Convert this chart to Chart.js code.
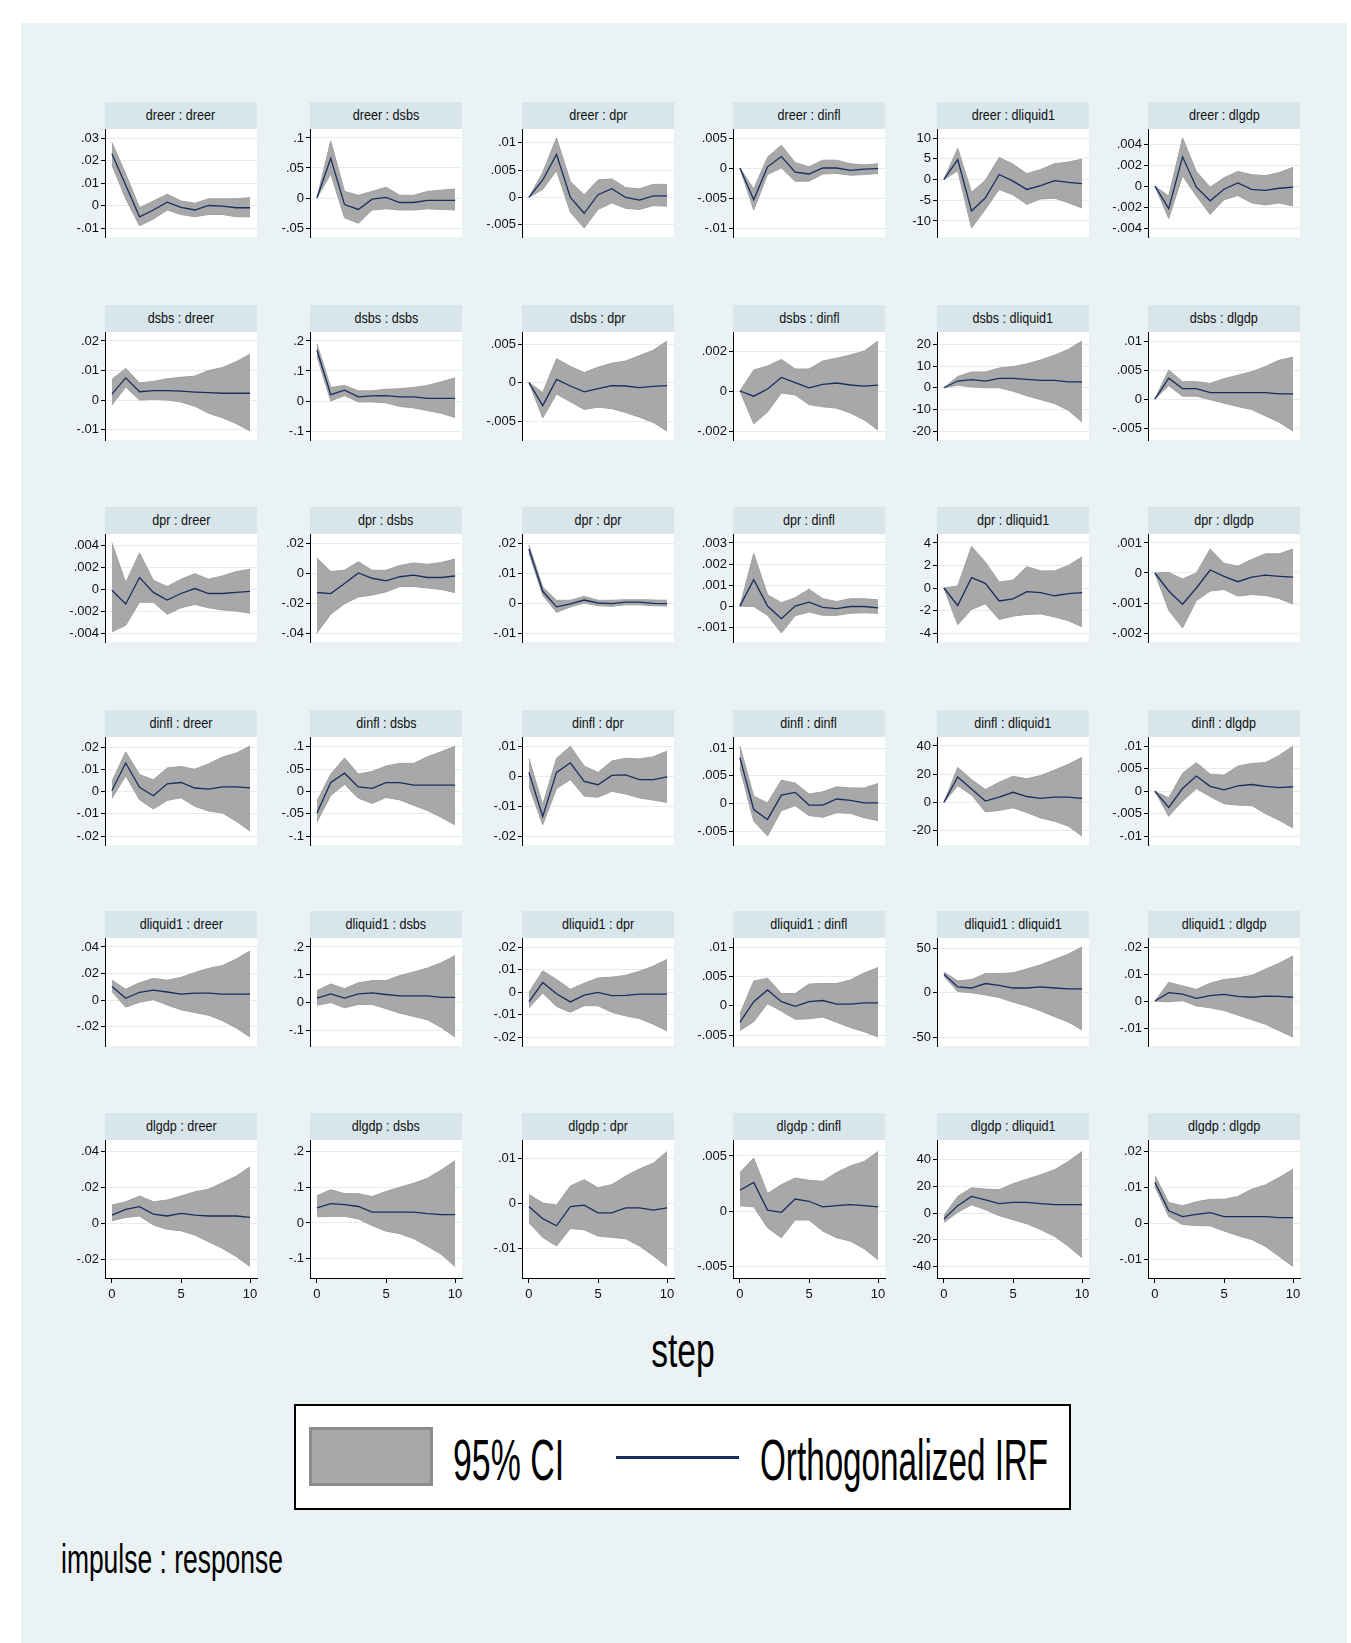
<!DOCTYPE html>
<html><head><meta charset="utf-8">
<script src="https://cdn.jsdelivr.net/npm/chart.js@4.4.1/dist/chart.umd.min.js"></script>
<style>
html,body{margin:0;padding:0;background:#fff;}
#page{position:relative;width:1351px;height:1643px;overflow:hidden;background:#fff;}
#bg{position:absolute;left:21px;top:23px;width:1326px;height:1620px;background:#EAF2F3;}
.strip{position:absolute;height:27px;background:#D8E5EA;text-align:center;font-family:'Liberation Sans',Arial,sans-serif;font-size:14px;line-height:27px;color:#111;white-space:nowrap;overflow:hidden;}
.strip span{display:inline-block;transform:scaleX(0.9);}
canvas{position:absolute;}
.txt{position:absolute;font-family:'Liberation Sans',Arial,sans-serif;color:#000;white-space:nowrap;}
</style>
</head><body>
<div id="page"><div id="bg"></div></div>
<script>
// ---------------- data ----------------
var steps = [0,1,2,3,4,5,6,7,8,9,10];
var stepTicks = [0,5,10];
var impulses = ['dreer','dsbs','dpr','dinfl','dliquid1','dlgdp'];
var responses = ['dreer','dsbs','dpr','dinfl','dliquid1','dlgdp'];

var irf_dreer_dreer = [0.023,0.009,-0.005,-0.002,0.0015,-0.0008,-0.002,0,-0.0003,-0.001,-0.001];
var lo_dreer_dreer  = [0.018,0.003,-0.009,-0.006,-0.002,-0.004,-0.005,-0.004,-0.004,-0.005,-0.005];
var hi_dreer_dreer  = [0.028,0.014,-0.001,0.002,0.005,0.002,0.001,0.003,0.003,0.003,0.0035];
var yt_dreer_dreer  = [-0.01,0,0.01,0.02,0.03];

var irf_dreer_dsbs = [0,0.066,-0.011,-0.019,-0.002,0.001,-0.0075,-0.0075,-0.004,-0.004,-0.004];
var lo_dreer_dsbs  = [0,0.04,-0.033,-0.042,-0.02,-0.018,-0.02,-0.02,-0.018,-0.019,-0.02];
var hi_dreer_dsbs  = [0,0.095,0.011,0.0045,0.011,0.018,0.0045,0.0045,0.011,0.013,0.015];
var yt_dreer_dsbs  = [-0.05,0,0.05,0.1];

var irf_dreer_dpr = [0,0.0032,0.0079,0,-0.0029,0.0005,0.0016,0,-0.0005,0.0003,0.0003];
var lo_dreer_dpr  = [0,0.0015,0.0049,-0.0027,-0.0056,-0.0022,-0.001,-0.002,-0.0022,-0.0015,-0.0016];
var hi_dreer_dpr  = [0,0.0046,0.0109,0.0029,0.0005,0.0032,0.0034,0.0018,0.0016,0.0024,0.0024];
var yt_dreer_dpr  = [-0.005,0,0.005,0.01];

var irf_dreer_dinfl = [0,-0.0053,0.0002,0.0019,-0.0007,-0.001,0,0,-0.0004,-0.0002,-0.0001];
var lo_dreer_dinfl  = [0,-0.007,-0.0011,0,-0.0022,-0.0022,-0.001,-0.0009,-0.0012,-0.0011,-0.0009];
var hi_dreer_dinfl  = [0,-0.0035,0.0018,0.0038,0.0009,0.0002,0.0013,0.0013,0.0007,0.0005,0.0007];
var yt_dreer_dinfl  = [-0.01,-0.005,0,0.005];

var irf_dreer_dliquid1 = [0,4.8,-7.6,-4.4,1.2,-0.4,-2.4,-1.5,-0.3,-0.7,-1.0];
var lo_dreer_dliquid1  = [0,2.1,-11.7,-7.2,-2.4,-3.7,-6.0,-4.7,-4.5,-5.6,-6.9];
var hi_dreer_dliquid1  = [0,7.5,-3.1,-0.2,5.3,3.7,1.4,2.4,3.8,4.2,4.9];
var yt_dreer_dliquid1  = [-10,-5,0,5,10];

var irf_dreer_dlgdp = [0,-0.00215,0.0028,-0.0001,-0.0014,-0.0003,0.0003,-0.0003,-0.0004,-0.0002,-0.0001];
var lo_dreer_dlgdp  = [0,-0.0031,0.001,-0.00095,-0.0027,-0.0013,-0.0009,-0.0016,-0.0018,-0.0016,-0.0019];
var hi_dreer_dlgdp  = [0,-0.00095,0.0046,0.0014,-0.0001,0.0008,0.0014,0.0011,0.001,0.0013,0.0018];
var yt_dreer_dlgdp  = [-0.004,-0.002,0,0.002,0.004];

var irf_dsbs_dreer = [0.002,0.0075,0.0028,0.0032,0.0032,0.003,0.0027,0.0025,0.0023,0.0023,0.0023];
var lo_dsbs_dreer  = [-0.0017,0.0044,0,0.0002,0,-0.0007,-0.0021,-0.0045,-0.006,-0.008,-0.0105];
var hi_dsbs_dreer  = [0.007,0.0107,0.0058,0.0063,0.0072,0.0077,0.0081,0.010,0.011,0.013,0.0155];
var yt_dsbs_dreer  = [-0.01,0,0.01,0.02];

var irf_dsbs_dsbs = [0.17,0.021,0.036,0.014,0.017,0.018,0.014,0.014,0.009,0.009,0.009];
var lo_dsbs_dsbs  = [0.15,0,0.018,-0.003,-0.003,-0.006,-0.018,-0.023,-0.032,-0.041,-0.055];
var hi_dsbs_dsbs  = [0.19,0.045,0.052,0.034,0.034,0.039,0.041,0.045,0.052,0.064,0.077];
var yt_dsbs_dsbs  = [-0.1,0,0.1,0.2];

var irf_dsbs_dpr = [0,-0.003,0.0004,-0.00045,-0.0012,-0.0008,-0.0004,-0.00045,-0.00065,-0.0005,-0.0004];
var lo_dsbs_dpr  = [0,-0.0046,-0.0015,-0.0025,-0.0035,-0.0032,-0.0034,-0.0039,-0.0045,-0.0052,-0.0063];
var hi_dsbs_dpr  = [0,-0.0013,0.0031,0.0021,0.0013,0.002,0.0025,0.0028,0.0035,0.0042,0.0054];
var yt_dsbs_dpr  = [-0.005,0,0.005];

var irf_dsbs_dinfl = [0,-0.00026,0.0001,0.00068,0.00042,0.00016,0.00033,0.0004,0.0003,0.00024,0.00029];
var lo_dsbs_dinfl  = [0,-0.00164,-0.00105,-0.0001,-0.0002,-0.00068,-0.00079,-0.00086,-0.0011,-0.00145,-0.00195];
var hi_dsbs_dinfl  = [0,0.00105,0.00125,0.00158,0.0011,0.0011,0.0015,0.00164,0.0018,0.002,0.0025];
var yt_dsbs_dinfl  = [-0.002,0,0.002];

var irf_dsbs_dliquid1 = [0,3.1,3.7,3.1,4.3,4.3,3.9,3.4,3.4,2.7,2.7];
var lo_dsbs_dliquid1  = [0,1.2,0.4,0,0,-1.6,-3.7,-5.5,-7.3,-10.4,-15.9];
var hi_dsbs_dliquid1  = [0,5.2,7.3,7.3,9.1,9.8,11,12.8,15,17.7,21.6];
var yt_dsbs_dliquid1  = [-20,-10,0,10,20];

var irf_dsbs_dlgdp = [0,0.0036,0.0018,0.0018,0.0011,0.0011,0.0011,0.0011,0.0011,0.0009,0.0009];
var lo_dsbs_dlgdp  = [0,0.0023,0.0005,0.0005,-0.0001,-0.0007,-0.0013,-0.0018,-0.0029,-0.004,-0.0055];
var hi_dsbs_dlgdp  = [0,0.005,0.003,0.003,0.0027,0.0035,0.0041,0.0047,0.0056,0.0067,0.0072];
var yt_dsbs_dlgdp  = [-0.005,0,0.005,0.01];

var irf_dpr_dreer = [-0.0001,-0.00136,0.00105,-0.0003,-0.001,-0.0004,0.00005,-0.0004,-0.0004,-0.0003,-0.0002];
var lo_dpr_dreer  = [-0.0039,-0.0033,-0.0012,-0.0012,-0.0023,-0.0017,-0.0014,-0.0017,-0.0019,-0.002,-0.0022];
var hi_dpr_dreer  = [0.0042,0.0006,0.0033,0.0008,0.00023,0.0009,0.0014,0.0009,0.0012,0.0016,0.0018];
var yt_dpr_dreer  = [-0.004,-0.002,0,0.002,0.004];

var irf_dpr_dsbs = [-0.013,-0.0137,-0.007,0,-0.0035,-0.0053,-0.0025,-0.0014,-0.003,-0.003,-0.002];
var lo_dpr_dsbs  = [-0.04,-0.0275,-0.0205,-0.016,-0.0147,-0.0126,-0.009,-0.009,-0.01,-0.011,-0.013];
var hi_dpr_dsbs  = [0.01,0.001,0.0018,0.0075,0.0018,0.0018,0.005,0.0067,0.0058,0.007,0.0093];
var yt_dpr_dsbs  = [-0.04,-0.02,0,0.02];

var irf_dpr_dpr = [0.018,0.0039,-0.0013,-0.0003,0.001,0,-0.0002,0.0003,0.0003,-0.0001,-0.0002];
var lo_dpr_dpr  = [0.0167,0.0026,-0.0031,-0.0013,0,-0.0009,-0.0011,-0.0006,-0.0006,-0.0009,-0.001];
var hi_dpr_dpr  = [0.0193,0.0053,0.0009,0.0009,0.0022,0.0009,0.0009,0.0011,0.0011,0.001,0.0009];
var yt_dpr_dpr  = [-0.01,0,0.01,0.02];

var irf_dpr_dinfl = [0,0.00126,0,-0.0006,0,0.00019,-0.00006,-0.00012,-0.00002,-0.00002,-0.00009];
var lo_dpr_dinfl  = [0,-0.00002,-0.00044,-0.00128,-0.00046,-0.00028,-0.00044,-0.00044,-0.00034,-0.00032,-0.00034];
var hi_dpr_dinfl  = [0,0.0025,0.00054,0.00016,0.0004,0.0008,0.00035,0.00022,0.00035,0.00035,0.0003];
var yt_dpr_dinfl  = [-0.001,0,0.001,0.002,0.003];

var irf_dpr_dliquid1 = [0,-1.55,0.92,0.41,-1.15,-0.97,-0.32,-0.41,-0.69,-0.5,-0.41];
var lo_dpr_dliquid1  = [0,-3.26,-1.9,-1.4,-2.8,-2.5,-2.35,-2.3,-2.57,-2.9,-3.45];
var hi_dpr_dliquid1  = [0,0.18,3.7,2.3,0.53,0.7,1.9,1.52,1.52,2.0,2.76];
var yt_dpr_dliquid1  = [-4,-2,0,2,4];

var irf_dpr_dlgdp = [0,-0.0006,-0.00104,-0.0005,0.0001,-0.00011,-0.00029,-0.00014,-0.00007,-0.00011,-0.00014];
var lo_dpr_dlgdp  = [0,-0.00124,-0.00183,-0.00092,-0.0006,-0.00055,-0.00077,-0.00072,-0.00075,-0.00085,-0.00104];
var hi_dpr_dlgdp  = [0,0.00002,-0.0002,0,0.0008,0.00032,0.00023,0.00045,0.00064,0.00064,0.0008];
var yt_dpr_dlgdp  = [-0.002,-0.001,0,0.001];

var irf_dinfl_dreer = [0.0006,0.013,0.002,-0.0018,0.0036,0.0042,0.0017,0.0012,0.0022,0.0022,0.0018];
var lo_dinfl_dreer  = [-0.003,0.0072,-0.0036,-0.0078,-0.0039,-0.0027,-0.0066,-0.0087,-0.0096,-0.0133,-0.0178];
var hi_dinfl_dreer  = [0.0048,0.018,0.0078,0.0054,0.0108,0.0114,0.0102,0.0126,0.0157,0.0175,0.0207];
var yt_dinfl_dreer  = [-0.02,-0.01,0,0.01,0.02];

var irf_dinfl_dsbs = [-0.049,0.02,0.041,0.01,0.007,0.02,0.02,0.014,0.014,0.014,0.014];
var lo_dinfl_dsbs  = [-0.069,-0.009,0.016,-0.015,-0.027,-0.0135,-0.019,-0.031,-0.043,-0.058,-0.075];
var hi_dinfl_dsbs  = [-0.022,0.039,0.075,0.039,0.045,0.057,0.063,0.063,0.078,0.089,0.102];
var yt_dinfl_dsbs  = [-0.1,-0.05,0,0.05,0.1];

var irf_dinfl_dpr = [0.0012,-0.0135,0.0012,0.0044,-0.0018,-0.0029,0.0002,0.0004,-0.0012,-0.0012,-0.0003];
var lo_dinfl_dpr  = [-0.0034,-0.0162,-0.0042,-0.0012,-0.0067,-0.0071,-0.0051,-0.006,-0.0073,-0.008,-0.0088];
var hi_dinfl_dpr  = [0.0059,-0.0096,0.0059,0.0099,0.0033,0.0012,0.005,0.0059,0.0057,0.0064,0.0083];
var yt_dinfl_dpr  = [-0.02,-0.01,0,0.01];

var irf_dinfl_dinfl = [0.0083,-0.0011,-0.0029,0.0015,0.002,-0.0003,-0.0003,0.0008,0.00056,0.0001,0.0001];
var lo_dinfl_dinfl  = [0.0064,-0.0032,-0.0059,-0.0013,-0.0004,-0.0022,-0.0025,-0.0017,-0.0018,-0.0026,-0.0031];
var hi_dinfl_dinfl  = [0.0104,0.0013,0.0001,0.0042,0.0037,0.0017,0.0021,0.003,0.0028,0.0028,0.0036];
var yt_dinfl_dinfl  = [-0.005,0,0.005,0.01];

var irf_dinfl_dliquid1 = [0,18,9.5,1,3.8,7.2,4.2,2.9,3.8,3.8,2.9];
var lo_dinfl_dliquid1  = [0,11.8,5.3,-6.7,-5.7,-3.8,-7.2,-11,-13.3,-16.8,-23.8];
var hi_dinfl_dliquid1  = [0,24.8,16.2,9.1,14.3,18.5,16.8,19,22.9,27,32];
var yt_dinfl_dliquid1  = [-20,0,20,40];

var irf_dinfl_dlgdp = [0,-0.0036,0.0006,0.0034,0.0011,0.0003,0.0012,0.0015,0.0011,0.0008,0.001];
var lo_dinfl_dlgdp  = [0,-0.0056,-0.0022,0.0006,-0.0012,-0.0028,-0.0031,-0.0032,-0.005,-0.0065,-0.0082];
var hi_dinfl_dlgdp  = [0,-0.0015,0.004,0.0064,0.0038,0.0036,0.0056,0.0062,0.0064,0.008,0.0101];
var yt_dinfl_dlgdp  = [-0.01,-0.005,0,0.005,0.01];

var irf_dliquid1_dreer = [0.0102,0.0014,0.0059,0.0075,0.0061,0.0045,0.0053,0.0053,0.0045,0.0045,0.0045];
var lo_dliquid1_dreer  = [0.0065,-0.0053,-0.0016,0.0004,-0.0037,-0.0073,-0.0094,-0.0114,-0.0155,-0.021,-0.0278];
var hi_dliquid1_dreer  = [0.015,0.0082,0.013,0.0163,0.015,0.0171,0.0208,0.0239,0.026,0.031,0.037];
var yt_dliquid1_dreer  = [-0.02,0,0.02,0.04];

var irf_dliquid1_dsbs = [0.016,0.031,0.016,0.031,0.035,0.029,0.024,0.024,0.024,0.019,0.019];
var lo_dliquid1_dsbs  = [-0.0095,0,-0.019,-0.0067,-0.0067,-0.022,-0.038,-0.05,-0.062,-0.09,-0.124];
var hi_dliquid1_dsbs  = [0.043,0.067,0.05,0.071,0.079,0.079,0.097,0.11,0.124,0.143,0.169];
var yt_dliquid1_dsbs  = [-0.1,0,0.1,0.2];

var irf_dliquid1_dpr = [-0.0044,0.0042,-0.0008,-0.0044,-0.0014,-0.0002,-0.0016,-0.0015,-0.0009,-0.0009,-0.0009];
var lo_dliquid1_dpr  = [-0.007,-0.0005,-0.0064,-0.009,-0.0061,-0.0061,-0.009,-0.0106,-0.0118,-0.0143,-0.0173];
var hi_dliquid1_dpr  = [-0.0002,0.0094,0.0056,0.0012,0.0039,0.0062,0.0066,0.0074,0.0092,0.0115,0.0145];
var yt_dliquid1_dpr  = [-0.02,-0.01,0,0.01,0.02];

var irf_dliquid1_dinfl = [-0.0028,0.0007,0.0027,0.0007,-0.0001,0.0007,0.0009,0.0003,0.0003,0.0005,0.0005];
var lo_dliquid1_dinfl  = [-0.0042,-0.0027,0.0004,-0.0009,-0.0023,-0.0022,-0.0019,-0.0028,-0.0037,-0.0044,-0.0053];
var hi_dliquid1_dinfl  = [-0.0014,0.0042,0.0047,0.0021,0.0021,0.0037,0.0038,0.0038,0.0044,0.0056,0.0065];
var yt_dliquid1_dinfl  = [-0.005,0,0.005,0.01];

var irf_dliquid1_dliquid1 = [21,6.6,5.4,10.5,8.4,5.4,5.4,6.6,5.4,4.5,4.5];
var lo_dliquid1_dliquid1  = [18.7,1.5,0,-2.4,-5.4,-10.5,-15,-20.5,-27,-33,-42];
var hi_dliquid1_dliquid1  = [23.5,13.5,15,21.7,21.7,22.6,27,31.6,37.7,43.7,51.8];
var yt_dliquid1_dliquid1  = [-50,0,50];

var irf_dliquid1_dlgdp = [0,0.0031,0.0026,0.001,0.002,0.0025,0.0017,0.0014,0.0018,0.0017,0.0014];
var lo_dliquid1_dlgdp  = [0,-0.0003,0.0002,-0.0018,-0.0025,-0.0035,-0.0052,-0.0069,-0.0086,-0.011,-0.0133];
var hi_dliquid1_dlgdp  = [0,0.0069,0.0056,0.0043,0.0066,0.008,0.0085,0.0095,0.0118,0.014,0.0167];
var yt_dliquid1_dlgdp  = [-0.01,0,0.01,0.02];

var irf_dlgdp_dreer = [0.0046,0.0078,0.0093,0.0052,0.0041,0.0056,0.0046,0.0041,0.0041,0.0041,0.0033];
var lo_dlgdp_dreer  = [0.0015,0.0033,0.0041,-0.0009,-0.0033,-0.0041,-0.0065,-0.0102,-0.0139,-0.0185,-0.024];
var hi_dlgdp_dreer  = [0.0102,0.012,0.0152,0.012,0.013,0.0152,0.0176,0.019,0.0226,0.0263,0.0315];
var yt_dlgdp_dreer  = [-0.02,0,0.02,0.04];

var irf_dlgdp_dsbs = [0.042,0.054,0.051,0.046,0.03,0.03,0.03,0.03,0.026,0.023,0.023];
var lo_dlgdp_dsbs  = [0.017,0.0185,0.0185,0.011,-0.0074,-0.023,-0.03,-0.044,-0.065,-0.088,-0.122];
var hi_dlgdp_dsbs  = [0.076,0.093,0.082,0.082,0.074,0.088,0.1,0.111,0.125,0.148,0.174];
var yt_dlgdp_dsbs  = [-0.1,0,0.1,0.2];

var irf_dlgdp_dpr = [-0.0007,-0.0034,-0.005,-0.0007,-0.0004,-0.0021,-0.0021,-0.001,-0.001,-0.0015,-0.001];
var lo_dlgdp_dpr  = [-0.0043,-0.0076,-0.0095,-0.0056,-0.0059,-0.0073,-0.0076,-0.0079,-0.0095,-0.0117,-0.0141];
var hi_dlgdp_dpr  = [0.002,0.0001,-0.0004,0.0039,0.0053,0.0035,0.0042,0.0061,0.0077,0.009,0.0116];
var yt_dlgdp_dpr  = [-0.01,0,0.01];

var irf_dlgdp_dinfl = [0.0019,0.0026,0.0001,-0.0001,0.0011,0.0009,0.0004,0.0005,0.0006,0.0005,0.0004];
var lo_dlgdp_dinfl  = [0.0005,0.0004,-0.0015,-0.0024,-0.0008,-0.0008,-0.0018,-0.0024,-0.0027,-0.0034,-0.0044];
var hi_dlgdp_dinfl  = [0.0035,0.0048,0.0016,0.0024,0.003,0.0028,0.0027,0.0035,0.0041,0.0045,0.0054];
var yt_dlgdp_dinfl  = [-0.005,0,0.005];

var irf_dlgdp_dliquid1 = [-4.5,5.5,12.4,9.9,7,8,8,7,6.2,6.2,6.2];
var lo_dlgdp_dliquid1  = [-7,0.5,6.2,2.5,-2,-5,-8,-12.4,-17.4,-24.8,-33.5];
var hi_dlgdp_dliquid1  = [-2,12.4,18.8,17.9,17.4,21.9,25.3,28.6,32.3,38.5,46];
var yt_dlgdp_dliquid1  = [-40,-20,0,20,40];

var irf_dlgdp_dlgdp = [0.0114,0.0035,0.0019,0.0025,0.003,0.0019,0.0019,0.0019,0.0019,0.0016,0.0016];
var lo_dlgdp_dlgdp  = [0.0103,0.0019,-0.0003,-0.0006,-0.0007,-0.0021,-0.0034,-0.0045,-0.0064,-0.0092,-0.012];
var hi_dlgdp_dlgdp  = [0.0133,0.0058,0.0049,0.006,0.0067,0.0067,0.0075,0.0095,0.0107,0.0128,0.0151];
var yt_dlgdp_dlgdp  = [-0.01,0,0.01,0.02];

// ---------------- layout & style ----------------
var COL_LEFT = [105,310,522,733,937,1148];
var ROW_TOP  = [102,305,507,710,911,1113];
var PW = 152, STRIP_H = 27, PH = 138, LABW = 42, PADT = 10, PADB = 10, XAXH = 30, PADR = 8;
var CI_FILL = '#A8A8A8', CI_EDGE = '#A0A0A0', NAVY = '#1B2C5E', GRID = '#E3ECEF';
var TICKFONT = {family: "'Liberation Sans Narrow','Liberation Sans',Arial,sans-serif", size: 13};

var page = document.getElementById('page');

function fmt(v){
  var s = String(parseFloat(Number(v).toPrecision(8)));
  return s.replace(/^(-?)0\./, '$1.');
}

var plotBg = {
  id: 'plotBg',
  beforeDraw: function(chart){
    var a = chart.chartArea, ctx = chart.ctx;
    ctx.save(); ctx.fillStyle = '#fff';
    ctx.fillRect(a.left, a.top, a.right - a.left, a.bottom - a.top);
    ctx.restore();
  }
};

impulses.forEach(function(imp, r){
  responses.forEach(function(res, c){
    var key = imp + '_' + res;
    var irf = window['irf_' + key], lo = window['lo_' + key], hi = window['hi_' + key], yt = window['yt_' + key];
    var mn0 = Math.min.apply(null, lo.concat(yt, irf));
    var mx0 = Math.max.apply(null, hi.concat(yt, irf));
    var pad = (mx0 - mn0) * 0.1;
    var isBottom = (r === impulses.length - 1);

    var left = COL_LEFT[c], top = ROW_TOP[r];
    var st = document.createElement('div');
    st.className = 'strip';
    st.style.left = left + 'px'; st.style.top = top + 'px'; st.style.width = PW + 'px';
    var sp = document.createElement('span'); sp.textContent = imp + ' : ' + res;
    st.appendChild(sp);

    var cv = document.createElement('canvas');
    var cw = LABW + PW + PADR;
    var ch = PADT + PH + (isBottom ? XAXH : PADB);
    cv.width = cw; cv.height = ch;
    cv.style.width = cw + 'px'; cv.style.height = ch + 'px';
    cv.style.left = (left - LABW) + 'px';
    cv.style.top = (top + STRIP_H - PADT) + 'px';
    page.appendChild(cv);
    page.appendChild(st);

    function pts(arr){ return steps.map(function(s, i){ return {x: s, y: arr[i]}; }); }

    new Chart(cv.getContext('2d'), {
      type: 'line',
      data: { datasets: [
        {label: 'Orthogonalized IRF', data: pts(irf), fill: false, borderColor: NAVY, borderWidth: 1.3, pointRadius: 0, tension: 0, order: 0},
        {label: '95% CI', data: pts(hi), fill: '+1', backgroundColor: CI_FILL, borderColor: CI_EDGE, borderWidth: 1, pointRadius: 0, tension: 0, order: 1},
        {label: '95% CI lower', data: pts(lo), fill: false, borderColor: CI_EDGE, borderWidth: 1, pointRadius: 0, tension: 0, order: 2}
      ]},
      options: {
        responsive: false, animation: false, devicePixelRatio: 1,
        layout: {padding: {top: PADT, bottom: isBottom ? 0 : PADB, left: 0, right: PADR}},
        plugins: {legend: {display: false}, tooltip: {enabled: false}, filler: {drawTime: 'beforeDatasetsDraw'}},
        scales: {
          x: {
            type: 'linear', min: -0.5, max: 10.5, display: isBottom,
            afterBuildTicks: function(ax){ ax.ticks = stepTicks.map(function(v){ return {value: v}; }); },
            afterFit: function(ax){ ax.height = XAXH; ax.paddingLeft = 0; ax.paddingRight = 0; },
            grid: {drawOnChartArea: false, drawTicks: true, tickLength: 5, tickColor: '#000', color: '#000'},
            border: {display: true, color: '#000', width: 1},
            ticks: {font: TICKFONT, color: '#111', padding: 4, autoSkip: false, maxRotation: 0,
                    callback: function(v){ return fmt(v); }}
          },
          y: {
            type: 'linear', min: mn0 - pad, max: mx0 + pad,
            afterBuildTicks: function(ax){ ax.ticks = yt.map(function(v){ return {value: v}; }); },
            afterFit: function(ax){ ax.width = LABW; ax.paddingTop = 0; ax.paddingBottom = 0; },
            grid: {drawOnChartArea: true, color: GRID, lineWidth: 1, drawTicks: true, tickLength: 4, tickColor: '#000', tickWidth: 1},
            border: {display: true, color: '#000', width: 1},
            ticks: {font: TICKFONT, color: '#111', padding: 2, autoSkip: false,
                    callback: function(v){ return fmt(v); }}
          }
        }
      },
      plugins: [plotBg]
    });
  });
});

// ---------------- texts & legend ----------------
function addText(txt, css){
  var d = document.createElement('div'); d.className = 'txt'; d.textContent = txt;
  for (var k in css) d.style[k] = css[k];
  page.appendChild(d); return d;
}
addText('step', {left: '483px', top: '1327px', width: '400px', textAlign: 'center', fontSize: '48px', lineHeight: '48px', transform: 'scaleX(0.7)', transformOrigin: '50% 50%'});

var box = document.createElement('div');
box.style.cssText = 'position:absolute;left:294px;top:1404px;width:777px;height:106px;border:2px solid #000;background:#fff;box-sizing:border-box;';
page.appendChild(box);
var sw = document.createElement('div');
sw.style.cssText = 'position:absolute;left:309px;top:1427px;width:124px;height:59px;background:' + CI_FILL + ';border:3px solid #8C8C8C;box-sizing:border-box;';
page.appendChild(sw);
addText('95% CI', {left: '453px', top: '1431px', fontSize: '58px', lineHeight: '58px', transform: 'scaleX(0.584)', transformOrigin: '0 50%'});
var ln = document.createElement('div');
ln.style.cssText = 'position:absolute;left:616px;top:1456px;width:123px;height:3px;background:' + NAVY + ';';
page.appendChild(ln);
addText('Orthogonalized IRF', {left: '760px', top: '1431px', fontSize: '58px', lineHeight: '58px', transform: 'scaleX(0.573)', transformOrigin: '0 50%'});
addText('impulse : response', {left: '61px', top: '1539px', fontSize: '41px', lineHeight: '41px', transform: 'scaleX(0.645)', transformOrigin: '0 50%'});
</script>
</body></html>
